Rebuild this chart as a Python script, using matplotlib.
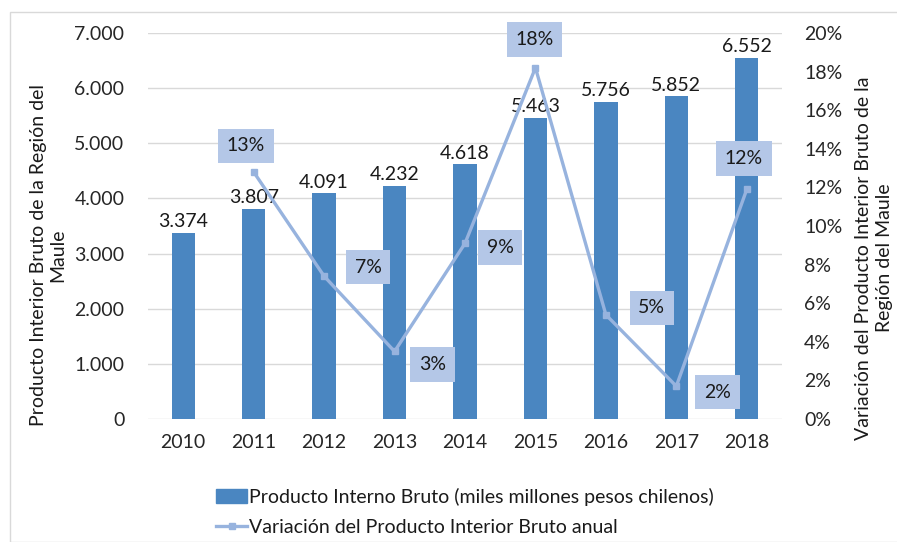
import matplotlib
matplotlib.use("Agg")
import matplotlib.pyplot as plt
from matplotlib.patches import Rectangle
from matplotlib.lines import Line2D
from matplotlib.ticker import FuncFormatter

plt.rcParams['font.family'] = ['Lato', 'DejaVu Sans']

years = ['2010', '2011', '2012', '2013', '2014', '2015', '2016', '2017', '2018']
pib = [3374, 3807, 4091, 4232, 4618, 5463, 5756, 5852, 6552]
pib_labels = ['3.374', '3.807', '4.091', '4.232', '4.618', '5.463', '5.756', '5.852', '6.552']
var_years = ['2011', '2012', '2013', '2014', '2015', '2016', '2017', '2018']
variacion = [12.8, 7.4, 3.5, 9.1, 18.2, 5.4, 1.7, 11.9]
var_labels = ['13%', '7%', '3%', '9%', '18%', '5%', '2%', '12%']
label_offsets = [(-8, 26), (44, 9), (38, -13), (35, -4), (-1, 28), (46, 7), (41, -6), (-3, 31)]

bar_color = '#4a86c1'
line_color = '#97b3de'
box_color = '#b4c7e7'
fs = 14

fig = plt.figure(figsize=(8.97, 5.42), dpi=100)
fig.patches.append(Rectangle((10/897, 0), 1, 1 - 12/542, transform=fig.transFigure,
                             fill=False, edgecolor='#d9d9d9', linewidth=1))
ax = fig.add_axes([148/897, 1 - 419/542, 634/897, 386/542])
x = list(range(len(years)))
ax.bar(x, pib, width=0.33, color=bar_color, zorder=2)
ax.set_ylim(0, 7000)
ax.set_xlim(-0.5, len(years) - 0.5)
ax.set_yticks(range(0, 7001, 1000))
ax.yaxis.set_major_formatter(FuncFormatter(lambda v, p: '0' if v == 0 else f'{int(v):,}'.replace(',', '.')))
ax.set_xticks(x)
ax.set_xticklabels(years)
ax.grid(axis='y', color='#d9d9d9', linewidth=1, zorder=0)
ax.set_axisbelow(True)
for s in ax.spines.values():
    s.set_visible(False)
ax.tick_params(axis='both', length=0, labelsize=fs, colors='#262626')
ax.tick_params(axis='y', pad=17)
ax.tick_params(axis='x', pad=11)
for xi, v, lab in zip(x, pib, pib_labels):
    ax.annotate(lab, (xi, v), xytext=(0, 2), textcoords='offset points',
                ha='center', va='bottom', fontsize=fs, color='#1a1a1a', zorder=5)

ax2 = ax.twinx()
ax2.set_ylim(0, 20)
ax2.set_yticks(range(0, 21, 2))
ax2.yaxis.set_major_formatter(FuncFormatter(lambda v, p: f'{int(v)}%'))
for s in ax2.spines.values():
    s.set_visible(False)
ax2.tick_params(axis='y', length=0, labelsize=fs, colors='#262626', pad=16)
vx = [years.index(y) for y in var_years]
ax2.plot(vx, variacion, color=line_color, linewidth=2.4, marker='s', markersize=5, zorder=3)
for xi, v, lab, off in zip(vx, variacion, var_labels, label_offsets):
    ax2.annotate(lab, (xi, v), xytext=off, textcoords='offset pixels',
                 ha='center', va='center', fontsize=fs, color='#1a1a1a',
                 bbox=dict(boxstyle='square,pad=0.45', facecolor=box_color, edgecolor='none'),
                 zorder=6)

fig.text(48/897, 1 - 255/542, 'Producto Interior Bruto de la Región del\nMaule',
         rotation=90, ha='center', va='center', multialignment='center',
         fontsize=fs, color='#1a1a1a', linespacing=1.2)
fig.text(874/897, 1 - 258/542, 'Variación del Producto Interior Bruto de la\nRegión del Maule',
         rotation=90, ha='center', va='center', multialignment='center',
         fontsize=fs, color='#1a1a1a', linespacing=1.3)

handles = [Rectangle((0, 0), 1, 1, color=bar_color),
           Line2D([0], [0], color=line_color, linewidth=2.4, marker='s', markersize=5)]
fig.legend(handles, ['Producto Interno Bruto (miles millones pesos chilenos)',
                     'Variación del Producto Interior Bruto anual'],
           loc='upper center', bbox_to_anchor=(465/897, 1 - 470/542), frameon=False,
           fontsize=fs, handlelength=1.6, handletextpad=0.1, labelspacing=0.7,
           labelcolor='#1a1a1a')

fig.savefig('out.png', dpi=100)
